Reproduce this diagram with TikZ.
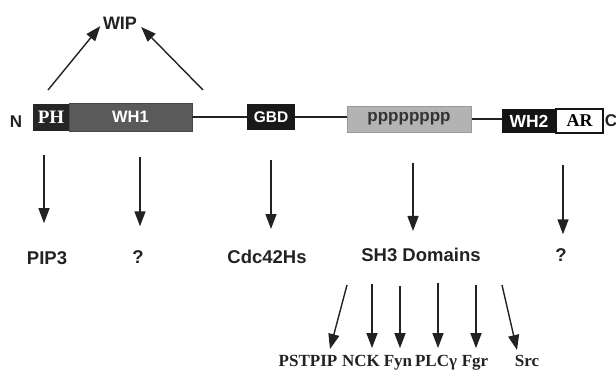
\documentclass[tikz,border=0pt]{standalone}
\usepackage{fontspec}
\setmainfont{Liberation Serif}
\setsansfont{Liberation Sans}
\usetikzlibrary{arrows.meta,calc}

\definecolor{ink}{HTML}{222222}
\definecolor{phgray}{HTML}{262626}
\definecolor{whgray}{HTML}{5A5A5A}
\definecolor{pgray}{HTML}{B3B3B3}
\definecolor{pedge}{HTML}{999999}

\tikzset{
  domain/.style={draw=none, inner sep=0pt, minimum width=#1, text=white,
    font=\sffamily\bfseries\fontsize{16.5}{18}\selectfont},
  linker/.style={draw=ink, line width=2pt},
  arr/.style={draw=ink, line width=1.4pt, -{Triangle[length=15pt,width=11pt]}},
  lab/.style={inner sep=0pt, text=ink, font=\sffamily\bfseries\fontsize{18.5}{20}\selectfont},
  sublab/.style={inner sep=0pt, anchor=base, text=ink, font=\rmfamily\bfseries\fontsize{17}{19}\selectfont},
}

\begin{document}
\begin{tikzpicture}[x=1pt,y=-1pt]
\useasboundingbox (0,0) rectangle (616,372);

% protein domains
\node[domain=36pt, minimum height=27pt, fill=phgray,
      font=\rmfamily\bfseries\fontsize{19}{20}\selectfont] (ph) at (51,117) {PH};
\node[domain=123pt, minimum height=28pt, fill=whgray, draw=whgray!80!black, line width=0.6pt] (wh1) at (130.5,117) {WH1\hspace{14pt}};
\node[domain=48pt, minimum height=26pt, fill=black!90, font=\sffamily\bfseries\fontsize{15.5}{17}\selectfont] (gbd) at (271,117) {GBD};
\node[domain=124pt, minimum height=26pt, fill=pgray, draw=pedge, line width=1pt, text=black!80,
      font=\sffamily\bfseries\fontsize{17}{18}\selectfont] (ppp) at (409,119) {pppppppp\hspace{6pt}};
\node[domain=54pt, minimum height=24pt, fill=black!92, font=\sffamily\bfseries\fontsize{17.5}{19}\selectfont] (wh2) at (529,121) {WH2};
\node[domain=47pt, minimum height=24pt, fill=white, draw=black!92, line width=1.6pt, text=black,
      font=\rmfamily\bfseries\fontsize{18}{19}\selectfont] (ar) at (579.5,121) {AR};

\node[lab, font=\sffamily\bfseries\fontsize{17}{19}\selectfont] (nterm) at (16,122) {N};
\node[lab, font=\sffamily\bfseries\fontsize{17}{19}\selectfont] (cterm) at (611,121) {C};

% linkers between domains
\draw[linker] (wh1.east) -- (wh1.east -| gbd.west);
\draw[linker] (gbd.east) -- (gbd.east -| ppp.west);
\draw[linker] (ppp.east) -- (ppp.east -| wh2.west);

% WIP binding
\node[lab, font=\sffamily\bfseries\fontsize{18}{20}\selectfont] (wip) at (120,23) {WIP};
\coordinate (wipA) at (48,90);
\coordinate (wipB) at (203,90);
\draw[arr, shorten >=4pt] (wipA) -- (wip.west);
\draw[arr] (wipB) -- ($(wip.east)+(4,4)$);

% ligands
\node[lab] (pip3) at (47,258) {PIP3};
\node[lab] (q1)   at (138,257) {?};
\node[lab] (cdc)  at (267,257) {Cdc42Hs};
\node[lab] (sh3)  at (421,255) {SH3 Domains};
\node[lab] (q2)   at (561,255) {?};

\coordinate (d1) at (44,155);
\coordinate (d2) at (140,157);
\coordinate (d3) at (271,160);
\coordinate (d4) at (413,163);
\coordinate (d5) at (563,165);
\draw[arr, shorten >=28pt] (d1) -- (d1 |- pip3.north);
\draw[arr, shorten >=24pt] (d2) -- (d2 |- q1.north);
\draw[arr, shorten >=21pt] (d3) -- (d3 |- cdc.north);
\draw[arr, shorten >=17pt] (d4) -- (d4 |- sh3.north);
\draw[arr, shorten >=14pt] (d5) -- (d5 |- q2.north);

% SH3-domain partners
\node[sublab] (pstpip) at (308,366.5) {PSTPIP};
\node[sublab] (nck)    at (361,366.5) {NCK};
\node[sublab] (fyn)    at (398,366.5) {Fyn};
\node[sublab] (plcg)   at (436,366.5) {PLCγ};
\node[sublab] (fgr)    at (475,366.5) {Fgr};
\node[sublab] (src)    at (527,366.5) {Src};

\coordinate (s1) at (347,285);
\coordinate (s2) at (372,284);
\coordinate (s3) at (400,286);
\coordinate (s4) at (438,283);
\coordinate (s5) at (476,285);
\coordinate (s6) at (502,285);
\coordinate (e1) at (330,349);
\coordinate (e6) at (517,350);
\draw[arr] (s1) -- (e1);
\draw[arr, shorten >=7pt] (s2) -- (s2 |- nck.north);
\draw[arr, shorten >=7pt] (s3) -- (s3 |- fyn.north);
\draw[arr, shorten >=7pt] (s4) -- (s4 |- plcg.north);
\draw[arr, shorten >=7pt] (s5) -- (s5 |- fgr.north);
\draw[arr] (s6) -- (e6);
\end{tikzpicture}
\end{document}
